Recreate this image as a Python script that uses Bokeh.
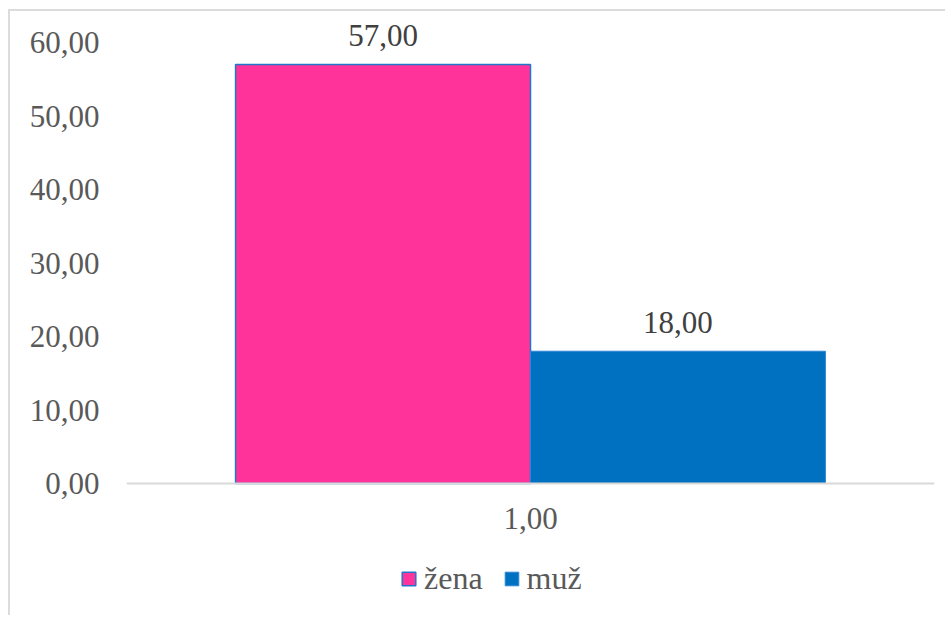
from bokeh.plotting import figure
from bokeh.models import (ColumnDataSource, FactorRange, Range1d, FixedTicker,
                          CustomJSTickFormatter, LabelSet, Legend, LegendItem)
from bokeh.transform import dodge
from bokeh.embed import file_html
from bokeh.resources import INLINE

# ---- data ----
categories = ["1,00"]
series_names = ["žena", "muž"]
zena_values = [57.0]
muz_values = [18.0]
y_ticks = [0, 10, 20, 30, 40, 50, 60]

FONT = "Liberation Serif"

def fmt(v):
    return f"{v:.2f}".replace(".", ",")

src_z = ColumnDataSource(dict(cat=categories, val=zena_values,
                              lab=[fmt(v) for v in zena_values]))
src_m = ColumnDataSource(dict(cat=categories, val=muz_values,
                              lab=[fmt(v) for v in muz_values]))

p = figure(frame_width=808, frame_height=595, output_backend="svg", toolbar_location=None,
           x_range=FactorRange(factors=categories, range_padding=0),
           y_range=Range1d(-17.96, 63))
p.min_border_left = 116
p.min_border_right = 11
p.min_border_top = 9
p.min_border_bottom = 0
p.outline_line_color = None
p.background_fill_color = "white"
p.border_fill_color = "white"
p.xgrid.grid_line_color = None
p.ygrid.grid_line_color = None
p.styles = {"border-top": "2px solid #dcdcdc", "border-left": "2px solid #dcdcdc",
            "margin-left": "8px", "margin-top": "9px"}

bw = 0.365
rz = p.vbar(x=dodge("cat", -bw / 2, range=p.x_range), top="val", width=bw, source=src_z,
            fill_color="#FF3399", line_color="#1F77CC", line_width=1.5)
rm = p.vbar(x=dodge("cat", bw / 2, range=p.x_range), top="val", width=bw, source=src_m,
            fill_color="#0070C0", line_color="#2E86D6", line_width=1.0)

for src, off in ((src_z, -bw / 2), (src_m, bw / 2)):
    ls = LabelSet(x=dodge("cat", off, range=p.x_range), y="val", text="lab", source=src,
                  text_align="center", text_baseline="middle", y_offset=29,
                  text_font=FONT, text_font_size="31px", text_color="#404040")
    p.add_layout(ls)

# y axis
ya = p.yaxis[0]
ya.ticker = FixedTicker(ticks=y_ticks)
ya.formatter = CustomJSTickFormatter(code="return tick.toFixed(2).replace('.', ',');")
ya.axis_line_color = None
ya.major_tick_line_color = None
ya.minor_tick_line_color = None
ya.major_tick_out = 0
ya.major_tick_in = 0
ya.major_label_standoff = 27
ya.major_label_text_font = FONT
ya.major_label_text_font_size = "31px"
ya.major_label_text_color = "#595959"

# x axis, drawn at y = 0 inside the frame
xa = p.xaxis[0]
xa.fixed_location = 0
xa.axis_line_color = "#d9d9d9"
xa.axis_line_width = 2
xa.major_tick_line_color = None
xa.minor_tick_line_color = None
xa.major_tick_out = 0
xa.major_tick_in = 0
xa.major_label_standoff = 24
xa.major_label_text_font = FONT
xa.major_label_text_font_size = "31px"
xa.major_label_text_color = "#595959"

legend = Legend(items=[LegendItem(label=series_names[0], renderers=[rz]),
                       LegendItem(label=series_names[1], renderers=[rm])],
                location=(274, 18), orientation="horizontal",
                glyph_width=17, glyph_height=17, label_standoff=7, spacing=20,
                padding=4, margin=0,
                label_text_font=FONT, label_text_font_size="32px",
                label_text_color="#595959",
                border_line_color=None, background_fill_alpha=0)
p.add_layout(legend, "center")

open("out.html", "w").write(file_html(p, INLINE))
